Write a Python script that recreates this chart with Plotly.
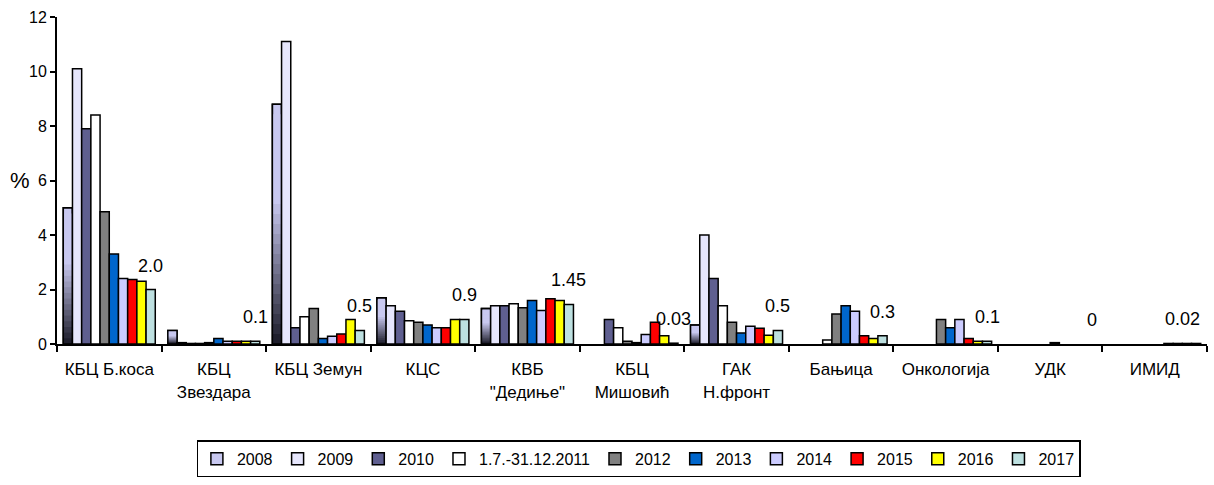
import plotly.graph_objects as go

# Hospital units (x categories)
categories = [
    "КБЦ Б.коса", "КБЦ<br>Звездара", "КБЦ Земун", "КЦС", "КВБ<br>\"Дедиње\"",
    "КБЦ<br>Мишовић", "ГАК<br>Н.фронт", "Бањица", "Онкологија", "УДК", "ИМИД",
]

# Percentages per period
s2008 = [5.0, 0.5, 8.8, 1.7, 1.3, 0, 0.7, 0, 0, 0, 0]
s2009 = [10.1, 0.05, 11.1, 1.4, 1.4, 0, 4.0, 0, 0, 0, 0]
s2010 = [7.9, 0.02, 0.6, 1.2, 1.4, 0.9, 2.4, 0, 0, 0, 0]
s2011 = [8.4, 0.02, 1.0, 0.85, 1.48, 0.6, 1.4, 0.15, 0, 0, 0]
s2012 = [4.85, 0.05, 1.3, 0.8, 1.33, 0.1, 0.8, 1.1, 0.9, 0, 0]
s2013 = [3.3, 0.2, 0.2, 0.7, 1.6, 0.05, 0.4, 1.4, 0.6, 0.05, 0]
s2014 = [2.4, 0.1, 0.28, 0.6, 1.23, 0.35, 0.65, 1.2, 0.9, 0, 0.02]
s2015 = [2.37, 0.1, 0.37, 0.6, 1.66, 0.8, 0.58, 0.3, 0.2, 0, 0.02]
s2016 = [2.3, 0.1, 0.9, 0.9, 1.6, 0.3, 0.32, 0.2, 0.1, 0, 0.02]
s2017 = [2.0, 0.1, 0.5, 0.9, 1.45, 0.03, 0.5, 0.3, 0.1, 0, 0.02]

# Text shown above the 2017 bar of each unit
labels_2017 = ["2.0", "0.1", "0.5", "0.9", "1.45", "0.03", "0.5", "0.3", "0.1", "0", "0.02"]

series = [
    ("2008", s2008, None),
    ("2009", s2009, "#E6E6FC"),
    ("2010", s2010, "#5F5F90"),
    ("1.7.-31.12.2011", s2011, "#FFFFFF"),
    ("2012", s2012, "#808080"),
    ("2013", s2013, "#0066CC"),
    ("2014", s2014, "#CCCCFF"),
    ("2015", s2015, "#FF0000"),
    ("2016", s2016, "#FFFF00"),
    ("2017", s2017, "#BDE0E0"),
]

FONT = "Liberation Sans, Arial, sans-serif"
n_series = len(series)
group_w = 0.88
bar_w = group_w / n_series
start = -group_w / 2


def outline_for(vals):
    # empty bars get no outline so nothing is drawn for a zero value
    return dict(color="black", width=[1.5 if v > 0 else 0 for v in vals])


def grad_color(t):
    """Colour of the 2008 gradient at fraction t (0 = bottom, 1 = top)."""
    light = (200, 200, 240)
    dark = (25, 25, 38)
    k = min(t / 0.6, 1.0)
    r, g, b = (round(d + (l - d) * k) for d, l in zip(dark, light))
    return f"rgb({r},{g},{b})"


fig = go.Figure()

for k, (name, vals, color) in enumerate(series):
    off = start + k * bar_w
    if color is None:
        # Vertical gradient: overlapping bars from full height downwards, darker each step
        steps = 24
        for j in range(steps):
            frac = 1 - j / steps
            fig.add_trace(go.Bar(
                x=categories, y=[v * frac for v in vals], name=name,
                width=bar_w, offset=off,
                marker=dict(color=grad_color(frac - 0.5 / steps),
                            line=outline_for(vals) if j == 0 else dict(width=0)),
                showlegend=(j == 0), legendgroup=name, hoverinfo="skip",
            ))
        fig.add_trace(go.Bar(
            x=categories, y=vals, name=name, width=bar_w, offset=off,
            marker=dict(color="rgba(0,0,0,0)", line=outline_for(vals)),
            showlegend=False, legendgroup=name,
        ))
    else:
        fig.add_trace(go.Bar(
            x=categories, y=vals, name=name, width=bar_w, offset=off,
            marker=dict(color=color, line=outline_for(vals)),
        ))

# Value labels centred over the 2017 bars
last_center = start + (n_series - 0.5) * bar_w
for i, (txt, v) in enumerate(zip(labels_2017, s2017)):
    fig.add_annotation(
        x=i + last_center, y=v, xref="x", yref="y", text=txt, showarrow=False,
        yanchor="middle", yshift=24,
        xshift=-14 if i == len(categories) - 1 else 0,
        font=dict(family=FONT, size=18, color="black"),
    )

# "%" axis caption beside the 6 tick
fig.add_annotation(
    x=0, xref="paper", y=6, yref="y", text="%", showarrow=False,
    xanchor="center", yanchor="middle", xshift=-37,
    font=dict(family=FONT, size=22, color="black"),
)

fig.update_layout(
    width=1214, height=485, autosize=False,
    margin=dict(l=57, r=7, t=17, b=139),
    barmode="overlay",
    plot_bgcolor="white", paper_bgcolor="white",
    font=dict(family=FONT, color="black"),
    legend=dict(
        orientation="h", x=0.506, xanchor="center", y=-0.295, yanchor="top",
        bordercolor="black", borderwidth=1.5, bgcolor="white",
        font=dict(family=FONT, size=16, color="black"),
        itemwidth=30, tracegroupgap=0,
    ),
)
fig.update_xaxes(
    type="category", categoryorder="array", categoryarray=categories,
    range=[-0.5, len(categories) - 0.5],
    tickson="boundaries", ticks="outside", ticklen=6, tickwidth=1.5, tickcolor="black",
    showline=True, linecolor="black", linewidth=2, showgrid=False,
    tickfont=dict(family=FONT, size=17, color="black"), ticklabelstandoff=9,
)
fig.update_yaxes(
    range=[0, 12], dtick=2, ticks="outside", ticklen=5, tickwidth=1.5, tickcolor="black",
    showline=True, linecolor="black", linewidth=2, showgrid=False, zeroline=False,
    tickfont=dict(family=FONT, size=16, color="black"),
)

fig.write_html("out.html")
